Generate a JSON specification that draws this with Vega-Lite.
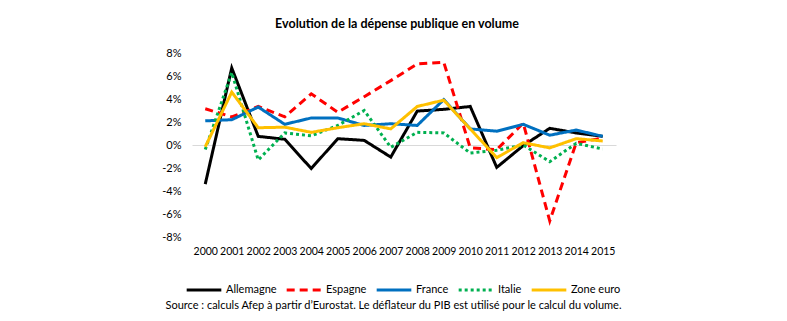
{
  "$schema": "https://vega.github.io/schema/vega-lite/v6.json",
  "width": 424,
  "height": 184,
  "autosize": "none",
  "padding": {"left": 192, "top": 53, "right": 171, "bottom": 84},
  "background": "white",
  "config": {
    "font": "Lato",
    "view": {"stroke": null}
  },
  "title": {
    "text": "Evolution de la dépense publique en volume",
    "font": "Lato",
    "fontSize": 12.5,
    "fontWeight": "bold",
    "color": "#000000",
    "anchor": "middle",
    "dx": -7,
    "offset": 17
  },
  "data": {
    "values": [
      {"annee": "2000", "pays": "Allemagne", "v": -3.4},
      {"annee": "2001", "pays": "Allemagne", "v": 6.7},
      {"annee": "2002", "pays": "Allemagne", "v": 0.75},
      {"annee": "2003", "pays": "Allemagne", "v": 0.5},
      {"annee": "2004", "pays": "Allemagne", "v": -2.05},
      {"annee": "2005", "pays": "Allemagne", "v": 0.55},
      {"annee": "2006", "pays": "Allemagne", "v": 0.4},
      {"annee": "2007", "pays": "Allemagne", "v": -1.05},
      {"annee": "2008", "pays": "Allemagne", "v": 2.95},
      {"annee": "2009", "pays": "Allemagne", "v": 3.1},
      {"annee": "2010", "pays": "Allemagne", "v": 3.35},
      {"annee": "2011", "pays": "Allemagne", "v": -1.95},
      {"annee": "2012", "pays": "Allemagne", "v": -0.05},
      {"annee": "2013", "pays": "Allemagne", "v": 1.45},
      {"annee": "2014", "pays": "Allemagne", "v": 1.05},
      {"annee": "2015", "pays": "Allemagne", "v": 0.75},
      {"annee": "2000", "pays": "Espagne", "v": 3.15},
      {"annee": "2001", "pays": "Espagne", "v": 2.45},
      {"annee": "2002", "pays": "Espagne", "v": 3.35},
      {"annee": "2003", "pays": "Espagne", "v": 2.45},
      {"annee": "2004", "pays": "Espagne", "v": 4.45},
      {"annee": "2005", "pays": "Espagne", "v": 2.85},
      {"annee": "2006", "pays": "Espagne", "v": 4.2},
      {"annee": "2007", "pays": "Espagne", "v": 5.6},
      {"annee": "2008", "pays": "Espagne", "v": 7.05},
      {"annee": "2009", "pays": "Espagne", "v": 7.2},
      {"annee": "2010", "pays": "Espagne", "v": -0.25},
      {"annee": "2011", "pays": "Espagne", "v": -0.4},
      {"annee": "2012", "pays": "Espagne", "v": 1.9},
      {"annee": "2013", "pays": "Espagne", "v": -6.6},
      {"annee": "2014", "pays": "Espagne", "v": 0.2},
      {"annee": "2015", "pays": "Espagne", "v": 0.6},
      {"annee": "2000", "pays": "France", "v": 2.1},
      {"annee": "2001", "pays": "France", "v": 2.2},
      {"annee": "2002", "pays": "France", "v": 3.3},
      {"annee": "2003", "pays": "France", "v": 1.8},
      {"annee": "2004", "pays": "France", "v": 2.35},
      {"annee": "2005", "pays": "France", "v": 2.35},
      {"annee": "2006", "pays": "France", "v": 1.7},
      {"annee": "2007", "pays": "France", "v": 1.85},
      {"annee": "2008", "pays": "France", "v": 1.7},
      {"annee": "2009", "pays": "France", "v": 3.95},
      {"annee": "2010", "pays": "France", "v": 1.4},
      {"annee": "2011", "pays": "France", "v": 1.2},
      {"annee": "2012", "pays": "France", "v": 1.8},
      {"annee": "2013", "pays": "France", "v": 0.85},
      {"annee": "2014", "pays": "France", "v": 1.3},
      {"annee": "2015", "pays": "France", "v": 0.75},
      {"annee": "2000", "pays": "Italie", "v": -0.4},
      {"annee": "2001", "pays": "Italie", "v": 6.3},
      {"annee": "2002", "pays": "Italie", "v": -1.3},
      {"annee": "2003", "pays": "Italie", "v": 1.05},
      {"annee": "2004", "pays": "Italie", "v": 0.8},
      {"annee": "2005", "pays": "Italie", "v": 1.7},
      {"annee": "2006", "pays": "Italie", "v": 3.0},
      {"annee": "2007", "pays": "Italie", "v": -0.2},
      {"annee": "2008", "pays": "Italie", "v": 1.1},
      {"annee": "2009", "pays": "Italie", "v": 1.05},
      {"annee": "2010", "pays": "Italie", "v": -0.7},
      {"annee": "2011", "pays": "Italie", "v": -0.45},
      {"annee": "2012", "pays": "Italie", "v": 0.0},
      {"annee": "2013", "pays": "Italie", "v": -1.45},
      {"annee": "2014", "pays": "Italie", "v": 0.15},
      {"annee": "2015", "pays": "Italie", "v": -0.35},
      {"annee": "2000", "pays": "Zone euro", "v": -0.15},
      {"annee": "2001", "pays": "Zone euro", "v": 4.6},
      {"annee": "2002", "pays": "Zone euro", "v": 1.5},
      {"annee": "2003", "pays": "Zone euro", "v": 1.55},
      {"annee": "2004", "pays": "Zone euro", "v": 1.1},
      {"annee": "2005", "pays": "Zone euro", "v": 1.5},
      {"annee": "2006", "pays": "Zone euro", "v": 1.85},
      {"annee": "2007", "pays": "Zone euro", "v": 1.4},
      {"annee": "2008", "pays": "Zone euro", "v": 3.35},
      {"annee": "2009", "pays": "Zone euro", "v": 3.9},
      {"annee": "2010", "pays": "Zone euro", "v": 1.4},
      {"annee": "2011", "pays": "Zone euro", "v": -1.1},
      {"annee": "2012", "pays": "Zone euro", "v": 0.2},
      {"annee": "2013", "pays": "Zone euro", "v": -0.25},
      {"annee": "2014", "pays": "Zone euro", "v": 0.55},
      {"annee": "2015", "pays": "Zone euro", "v": 0.35}
    ]
  },
  "mark": {"type": "line", "strokeWidth": 3, "strokeCap": "butt", "strokeJoin": "miter"},
  "encoding": {
    "x": {
      "field": "annee",
      "type": "ordinal",
      "scale": {"type": "point", "padding": 0.5},
      "axis": {
        "title": "Source : calculs Afep à partir d’Eurostat. Le déflateur du PIB est utilisé pour le calcul du volume.",
        "titleFont": "Lato",
        "titleFontSize": 11,
        "titleFontWeight": "normal",
        "titleColor": "#000000",
        "titleX": 201,
        "titleY": 68,
        "titleAlign": "center",
        "titleBaseline": "middle",
        "labelAngle": 0,
        "labelFont": "Lato",
        "labelFontSize": 10.5,
        "labelColor": "#000000",
        "labelPadding": 9,
        "labelOverlap": false,
        "ticks": false,
        "domain": false,
        "grid": false
      }
    },
    "y": {
      "field": "v",
      "type": "quantitative",
      "scale": {"domain": [-8, 8], "nice": false},
      "axis": {
        "title": null,
        "values": [-8, -6, -4, -2, 0, 2, 4, 6, 8],
        "labelExpr": "datum.value + '%'",
        "labelFont": "Lato",
        "labelFontSize": 11,
        "labelColor": "#000000",
        "labelPadding": 11,
        "labelOverlap": false,
        "labelBound": false,
        "ticks": false,
        "domain": false,
        "grid": true,
        "gridColor": "#d9d9d9",
        "gridWidth": 1,
        "gridOpacity": {"condition": {"test": "datum.value === 0", "value": 1}, "value": 0}
      }
    },
    "color": {
      "field": "pays",
      "type": "nominal",
      "scale": {
        "domain": ["Allemagne", "Espagne", "France", "Italie", "Zone euro"],
        "range": ["#000000", "#ff0000", "#0070c0", "#00b050", "#ffc000"]
      },
      "legend": {
        "title": null,
        "orient": "none",
        "direction": "horizontal",
        "legendX": -7,
        "legendY": 218,
        "padding": 0,
        "symbolType": "stroke",
        "symbolSize": 1200,
        "symbolStrokeWidth": 3,
        "labelFont": "Lato",
        "labelFontSize": 11,
        "labelColor": "#000000",
        "labelOffset": 3,
        "columnPadding": 3
      }
    },
    "strokeDash": {
      "field": "pays",
      "type": "nominal",
      "scale": {
        "domain": ["Allemagne", "Espagne", "France", "Italie", "Zone euro"],
        "range": [[1, 0], [8, 5], [1, 0], [3, 3], [1, 0]]
      },
      "legend": null
    }
  }
}
